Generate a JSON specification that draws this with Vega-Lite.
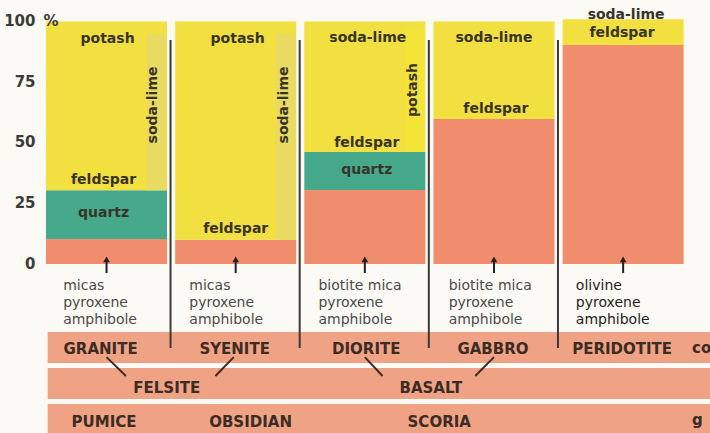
{
  "$schema": "https://vega.github.io/schema/vega-lite/v6.json",
  "width": 710,
  "height": 433,
  "autosize": {"type": "none"},
  "padding": 0,
  "background": "#FBFAF4",
  "config": {"view": {"stroke": null}},
  "datasets": {
    "segs": [
      {"col": 1, "part": "mafic", "pct": 0, "pct2": 10.3},
      {"col": 1, "part": "quartz", "pct": 10.3, "pct2": 30.4},
      {"col": 1, "part": "feldspar", "pct": 30.4, "pct2": 100},
      {"col": 2, "part": "mafic", "pct": 0, "pct2": 10},
      {"col": 2, "part": "feldspar", "pct": 10, "pct2": 100},
      {"col": 3, "part": "mafic", "pct": 0, "pct2": 30.5},
      {"col": 3, "part": "quartz", "pct": 30.5, "pct2": 46.2},
      {"col": 3, "part": "feldspar", "pct": 46.2, "pct2": 100},
      {"col": 4, "part": "mafic", "pct": 0, "pct2": 59.8},
      {"col": 4, "part": "feldspar", "pct": 59.8, "pct2": 100},
      {"col": 5, "part": "mafic", "pct": 0, "pct2": 90.3},
      {"col": 5, "part": "feldspar", "pct": 90.3, "pct2": 101}
    ],
    "strips": [
      {"col": 1, "part": "soda-lime", "pct": 30.4, "pct2": 95},
      {"col": 2, "part": "soda-lime", "pct": 10, "pct2": 95},
      {"col": 3, "part": "potash", "pct": 46.2, "pct2": 97}
    ],
    "bands": [
      {"band": "coarse", "col": 0.544, "col2": 5.8, "pct": -28.0, "pct2": -40.8},
      {"band": "fine", "col": 0.544, "col2": 5.8, "pct": -42.9, "pct2": -55.7},
      {"band": "glassy", "col": 0.544, "col2": 5.8, "pct": -57.7, "pct2": -69.7}
    ],
    "dividers": [
      {"col": 1, "pct": 92.4, "pct2": -34.6},
      {"col": 2, "pct": 92.4, "pct2": -34.6},
      {"col": 3, "pct": 92.4, "pct2": -34.6},
      {"col": 4, "pct": 92.4, "pct2": -34.6}
    ],
    "links": [
      {"col": 1.0, "pct": -38.4, "col2": 1.15, "pct2": -46.2},
      {"col": 1.985, "pct": -38.4, "col2": 1.843, "pct2": -46.2},
      {"col": 3.0, "pct": -38.4, "col2": 3.137, "pct2": -46.2},
      {"col": 4.0, "pct": -38.4, "col2": 3.855, "pct2": -46.2}
    ],
    "arrows": [
      {"col": 1, "pct": -3.7, "pct2": 1.5},
      {"col": 2, "pct": -3.7, "pct2": 1.5},
      {"col": 3, "pct": -3.7, "pct2": 1.5},
      {"col": 4, "pct": -3.7, "pct2": 1.5},
      {"col": 5, "pct": -3.7, "pct2": 1.5}
    ],
    "heads": [
      {"col": 1, "pct": 1.9},
      {"col": 2, "pct": 1.9},
      {"col": 3, "pct": 1.9},
      {"col": 4, "pct": 1.9},
      {"col": 5, "pct": 1.9}
    ],
    "labels": [
      {"text": "potash", "col": 1.008, "pct": 91.3, "kind": "bar"},
      {"text": "feldspar", "col": 0.977, "pct": 33.0, "kind": "bar"},
      {"text": "quartz", "col": 0.977, "pct": 19.5, "kind": "bar"},
      {"text": "potash", "col": 2.015, "pct": 91.3, "kind": "bar"},
      {"text": "feldspar", "col": 2.0, "pct": 12.7, "kind": "bar"},
      {"text": "soda-lime", "col": 3.023, "pct": 91.7, "kind": "bar"},
      {"text": "feldspar", "col": 3.015, "pct": 48.4, "kind": "bar"},
      {"text": "quartz", "col": 3.015, "pct": 37.1, "kind": "bar"},
      {"text": "soda-lime", "col": 4.0, "pct": 91.7, "kind": "bar"},
      {"text": "feldspar", "col": 4.015, "pct": 62.1, "kind": "bar"},
      {"text": "soda-lime", "col": 5.023, "pct": 100.9, "kind": "bar"},
      {"text": "feldspar", "col": 4.992, "pct": 93.7, "kind": "bar"},
      {"text": "soda-lime", "col": 1.359, "pct": 65.6, "kind": "vert"},
      {"text": "soda-lime", "col": 2.374, "pct": 65.6, "kind": "vert"},
      {"text": "potash", "col": 3.374, "pct": 71.8, "kind": "vert"},
      {"text": "micas", "col": 0.664, "pct": -10.8, "kind": "min"},
      {"text": "pyroxene", "col": 0.664, "pct": -17.75, "kind": "min"},
      {"text": "amphibole", "col": 0.664, "pct": -24.7, "kind": "min"},
      {"text": "micas", "col": 1.641, "pct": -10.8, "kind": "min"},
      {"text": "pyroxene", "col": 1.641, "pct": -17.75, "kind": "min"},
      {"text": "amphibole", "col": 1.641, "pct": -24.7, "kind": "min"},
      {"text": "biotite mica", "col": 2.641, "pct": -10.8, "kind": "min"},
      {"text": "pyroxene", "col": 2.641, "pct": -17.75, "kind": "min"},
      {"text": "amphibole", "col": 2.641, "pct": -24.7, "kind": "min"},
      {"text": "biotite mica", "col": 3.649, "pct": -10.8, "kind": "min"},
      {"text": "pyroxene", "col": 3.649, "pct": -17.75, "kind": "min"},
      {"text": "amphibole", "col": 3.649, "pct": -24.7, "kind": "min"},
      {"text": "olivine", "col": 4.634, "pct": -10.8, "kind": "min5"},
      {"text": "pyroxene", "col": 4.634, "pct": -17.75, "kind": "min5"},
      {"text": "amphibole", "col": 4.634, "pct": -24.7, "kind": "min5"},
      {"text": "GRANITE", "col": 0.954, "pct": -37.1, "kind": "rock"},
      {"text": "SYENITE", "col": 1.992, "pct": -37.1, "kind": "rock"},
      {"text": "DIORITE", "col": 3.011, "pct": -37.1, "kind": "rock"},
      {"text": "GABBRO", "col": 3.992, "pct": -37.1, "kind": "rock"},
      {"text": "PERIDOTITE", "col": 4.992, "pct": -37.1, "kind": "rock"},
      {"text": "FELSITE", "col": 1.466, "pct": -53.2, "kind": "rock"},
      {"text": "BASALT", "col": 3.511, "pct": -53.2, "kind": "rock"},
      {"text": "PUMICE", "col": 0.981, "pct": -67.2, "kind": "rock"},
      {"text": "OBSIDIAN", "col": 2.115, "pct": -67.2, "kind": "rock"},
      {"text": "SCORIA", "col": 3.576, "pct": -67.2, "kind": "rock"},
      {"text": "co", "col": 5.534, "pct": -36.8, "kind": "cut"},
      {"text": "g", "col": 5.534, "pct": -66.4, "kind": "cut"},
      {"text": "%", "col": 0.511, "pct": 100.4, "kind": "pctsign"}
    ]
  },
  "encoding": {
    "x": {"field": "col", "type": "quantitative", "scale": {"domain": [0.2137, 5.634], "nice": false, "zero": false}, "axis": null},
    "y": {
      "field": "pct",
      "type": "quantitative",
      "scale": {"domain": [-69.7, 108.9], "nice": false, "zero": false},
      "axis": {
        "orient": "left",
        "offset": -38,
        "values": [0, 25, 50, 75, 100],
        "domain": false,
        "ticks": false,
        "grid": false,
        "title": null,
        "labelFont": "DejaVu Sans",
        "labelFontSize": 15,
        "labelFontWeight": "bold",
        "labelColor": "#3a3a3a",
        "labelPadding": 3,
        "labelOffset": -1
      }
    }
  },
  "layer": [
    {
      "data": {"name": "bands"},
      "mark": {"type": "rect", "color": "#F0A384"},
      "encoding": {"x2": {"field": "col2"}, "y2": {"field": "pct2"}}
    },
    {
      "data": {"name": "segs"},
      "mark": {"type": "bar", "width": 121},
      "encoding": {
        "y2": {"field": "pct2"},
        "color": {"field": "part", "type": "nominal", "legend": null,
          "scale": {"domain": ["mafic", "quartz", "feldspar", "soda-lime", "potash"], "range": ["#F08D6D", "#46A98B", "#F2DF40", "#E9DB62", "#F5E438"]}}
      }
    },
    {
      "data": {"name": "strips"},
      "mark": {"type": "bar", "width": 20, "xOffset": 50},
      "encoding": {
        "y2": {"field": "pct2"},
        "color": {"field": "part", "type": "nominal", "legend": null,
          "scale": {"domain": ["mafic", "quartz", "feldspar", "soda-lime", "potash"], "range": ["#F08D6D", "#46A98B", "#F2DF40", "#E9DB62", "#F5E438"]}}
      }
    },
    {
      "data": {"name": "dividers"},
      "mark": {"type": "rule", "xOffset": 64, "strokeWidth": 2, "color": "#3a3a3a"},
      "encoding": {"y2": {"field": "pct2"}}
    },
    {
      "data": {"name": "links"},
      "mark": {"type": "rule", "strokeWidth": 2, "color": "#3b2c25"},
      "encoding": {"x2": {"field": "col2"}, "y2": {"field": "pct2"}}
    },
    {
      "data": {"name": "arrows"},
      "mark": {"type": "rule", "strokeWidth": 2, "color": "#222222"},
      "encoding": {"y2": {"field": "pct2"}}
    },
    {
      "data": {"name": "heads"},
      "mark": {"type": "point", "shape": "triangle-up", "filled": true, "size": 45, "color": "#222222", "opacity": 1}
    },
    {
      "data": {"name": "labels"},
      "transform": [{"filter": "datum.kind == 'bar'"}],
      "mark": {"type": "text", "font": "DejaVu Sans", "fontSize": 14, "fontWeight": "bold", "color": "#383428", "align": "center", "baseline": "alphabetic"},
      "encoding": {"text": {"field": "text"}}
    },
    {
      "data": {"name": "labels"},
      "transform": [{"filter": "datum.kind == 'vert'"}],
      "mark": {"type": "text", "font": "DejaVu Sans", "fontSize": 14, "fontWeight": "bold", "color": "#383428", "align": "center", "baseline": "middle", "angle": 270},
      "encoding": {"text": {"field": "text"}}
    },
    {
      "data": {"name": "labels"},
      "transform": [{"filter": "datum.kind == 'min'"}],
      "mark": {"type": "text", "font": "DejaVu Sans", "fontSize": 14, "color": "#4a4a4a", "align": "left", "baseline": "alphabetic"},
      "encoding": {"text": {"field": "text"}}
    },
    {
      "data": {"name": "labels"},
      "transform": [{"filter": "datum.kind == 'min5'"}],
      "mark": {"type": "text", "font": "DejaVu Sans", "fontSize": 14, "color": "#1e1e1e", "align": "left", "baseline": "alphabetic"},
      "encoding": {"text": {"field": "text"}}
    },
    {
      "data": {"name": "labels"},
      "transform": [{"filter": "datum.kind == 'rock'"}],
      "mark": {"type": "text", "font": "DejaVu Sans", "fontSize": 15, "fontWeight": "bold", "color": "#3b2c25", "align": "center", "baseline": "alphabetic"},
      "encoding": {"text": {"field": "text"}}
    },
    {
      "data": {"name": "labels"},
      "transform": [{"filter": "datum.kind == 'cut'"}],
      "mark": {"type": "text", "font": "DejaVu Sans", "fontSize": 15, "fontWeight": "bold", "color": "#3b2c25", "align": "left", "baseline": "alphabetic"},
      "encoding": {"text": {"field": "text"}}
    },
    {
      "data": {"name": "labels"},
      "transform": [{"filter": "datum.kind == 'pctsign'"}],
      "mark": {"type": "text", "font": "DejaVu Sans", "fontSize": 15, "fontWeight": "bold", "color": "#3a3a3a", "align": "left", "baseline": "middle"},
      "encoding": {"text": {"field": "text"}}
    }
  ]
}
